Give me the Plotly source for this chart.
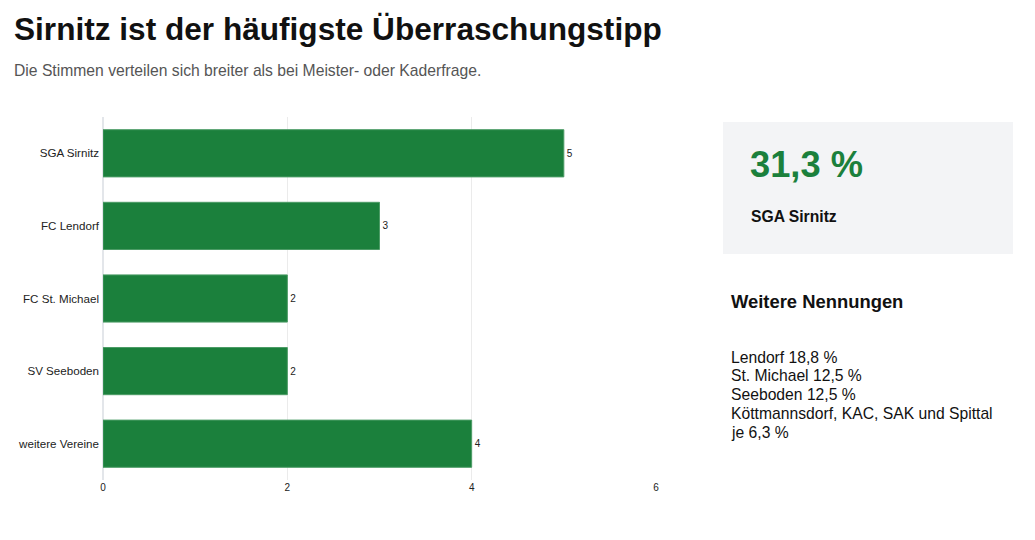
import plotly.graph_objects as go

categories = ["SGA Sirnitz", "FC Lendorf", "FC St. Michael", "SV Seeboden", "weitere Vereine"]
values = [5, 3, 2, 2, 4]
x_ticks = [0, 2, 4, 6]

title_text = "Sirnitz ist der häufigste Überraschungstipp"
subtitle_text = "Die Stimmen verteilen sich breiter als bei Meister- oder Kaderfrage."
kpi_value = "31,3 %"
kpi_label = "SGA Sirnitz"
list_title = "Weitere Nennungen"
list_lines = ["Lendorf 18,8 %", "St. Michael 12,5 %", "Seeboden 12,5 %",
              "Köttmannsdorf, KAC, SAK und Spittal", "je 6,3 %"]

W, H = 1035, 540
GREEN = "#1b803c"
FONT = "Liberation Sans, Arial, sans-serif"

def px(x):
    return x / W

def py(y):
    return 1 - y / H

fig = go.Figure(go.Bar(
    x=values, y=categories, orientation="h",
    marker=dict(color=GREEN, line=dict(color="#4c9c66", width=1)),
    width=0.65,
    text=[str(v) for v in values], textposition="outside",
    textfont=dict(size=10, color="#222", family=FONT),
    cliponaxis=False, hoverinfo="x+y",
))

fig.update_layout(
    width=W, height=H,
    margin=dict(l=0, r=0, t=0, b=0),
    paper_bgcolor="white", plot_bgcolor="white",
    font=dict(family=FONT, color="#222"),
    showlegend=False,
    bargap=0.35,
    xaxis=dict(domain=[px(103), px(656)], range=[0, 6], tickvals=x_ticks,
               ticktext=[str(t) for t in x_ticks],
               showgrid=True, gridcolor="#ebebeb", gridwidth=1,
               zeroline=True, zerolinecolor="#e3e6ea", zerolinewidth=2,
               showline=False, ticks="", tickfont=dict(size=10, color="#222"),
               automargin=False, fixedrange=True),
    yaxis=dict(domain=[1 - 480 / H, 1 - 117 / H], categoryorder="array",
               categoryarray=categories, autorange="reversed",
               showgrid=False, zeroline=False, showline=False, ticks="",
               ticklabelstandoff=3,
               tickfont=dict(size=11.6, color="#222"), automargin=False, fixedrange=True),
)

fig.add_shape(type="rect", xref="paper", yref="paper",
              x0=px(723), x1=px(1013), y0=py(254), y1=py(122),
              fillcolor="#f3f4f6", line=dict(width=0), layer="below")

ann = []
ann.append(dict(text="<b>" + title_text + "</b>", x=px(12), y=py(29),
                font=dict(size=31.6, color="#111")))
ann.append(dict(text=subtitle_text, x=px(12), y=py(70),
                font=dict(size=15.7, color="#555")))
ann.append(dict(text="<b>" + kpi_value + "</b>", x=px(748), y=py(164),
                font=dict(size=36.3, color=GREEN)))
ann.append(dict(text="<b>" + kpi_label + "</b>", x=px(749), y=py(216),
                font=dict(size=15.7, color="#111")))
ann.append(dict(text="<b>" + list_title + "</b>", x=px(729), y=py(301),
                font=dict(size=18.4, color="#111")))
for i, line in enumerate(list_lines):
    ann.append(dict(text=line, x=px(729), y=py(357 + i * 18.8),
                    font=dict(size=15.7, color="#111")))

for a in ann:
    fig.add_annotation(xref="paper", yref="paper", xanchor="left", yanchor="middle",
                       showarrow=False, align="left", **a)

fig.write_html("out.html", config={"displayModeBar": False})
